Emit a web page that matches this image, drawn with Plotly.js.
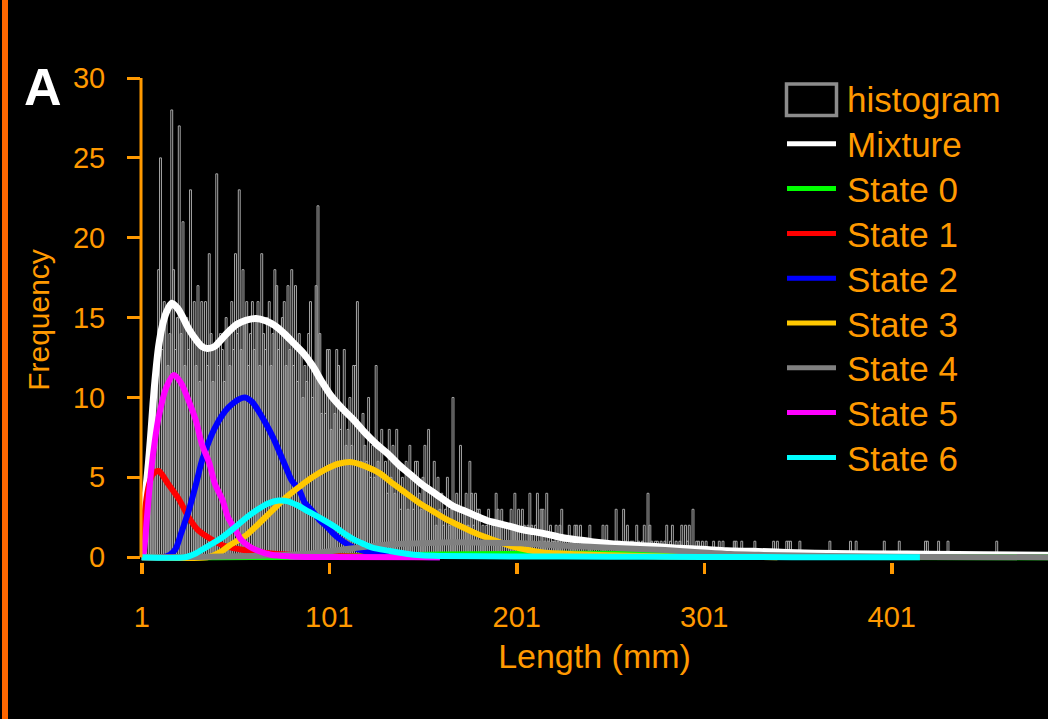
<!DOCTYPE html>
<html><head><meta charset="utf-8">
<script src="https://cdn.plot.ly/plotly-3.0.1.min.js"></script>
<style>html,body{margin:0;padding:0;background:#000;overflow:hidden}#chart{width:1048px;height:719px}</style>
</head><body><div id="chart"></div>
<script>
// ---- histogram: counts per 1-mm bin, lengths 1..230 ----
const histCounts = [
 1, 2, 4, 5, 7, 8,10,11,12,18,
25,13,16,15,12,14,28,18,13,15,
27,14,21,12,15,13,23,14,16,12,
17,11,16,13,16,12,19,14,11,13,
24,12,14,13,11,15,14,12,16,13,
19,14,23,13,18,15,16,12,14,16,
13,15,16,12,19,14,13,15,16,12,
14,18,17,13,14,15,16,12,17,13,
18,12,17,11,14,13,10,12,11,14,
16,10,12,17,22,14, 9,11, 9,13,
13, 8,10, 9,13,12, 8, 9,13, 7,
 8,10, 7,12,12,16, 8, 6, 9, 7,
 6,10, 5, 7, 5,12, 6, 7, 8, 5,
 6, 4, 8, 5, 7, 4, 8, 6, 3, 5,
 4, 6, 3, 7, 5, 3, 6, 6, 4, 3,
 5, 7, 3, 8, 4, 3, 6, 2, 5, 3,
 4, 2, 3, 5, 2, 3,10, 2, 4, 3,
 7, 2, 3, 4, 2, 6, 4, 2, 4, 3,
 3, 1, 2, 1, 2, 3, 1, 2, 2, 4,
 3, 2, 3, 1, 2, 2, 1, 3, 2, 4,
 2, 3, 1, 3, 2, 1, 2, 4, 2, 1,
 2, 4, 1, 3, 3, 1, 4, 1, 2, 1,
 1, 2, 1, 2, 3, 1, 1, 0, 2, 1
];
// sparse tail (non-zero bins only)
const tailLengths = [231,232,233,234,235,236,237,239,240,241,243,244,246,247,248,249,251,252,254,255,256,258,259,260,262,263,265,266,268,269,271,272,273,275,276,278,280,281,283,284,286,288,289,291,292,293,295,297,298,300,302,306,309,311,317,318,321,328,338,340,345,346,347,352,368,379,382,397,405,419,420,426,431,457];
const tailCounts  = [1,2,2,1,2,1,1,1,2,1,1,1,1,2,1,2,1,1,3,1,1,3,1,2,1,1,2,1,1,2,4,2,1,1,1,1,1,2,1,2,1,1,2,2,1,2,3,1,1,1,1,1,1,1,1,1,1,1,1,1,1,1,1,1,1,1,1,1,1,1,1,1,1,1];

// ---- fitted curves ----
const mixL = [1,2,3,4,5,6,7,8,10,12,14,17,20,23,26,30,33,36,40,44,48,52,57,62,67,72,77,82,87,92,97,102,108,114,120,126,132,138,144,150,156,162,167,172,178,185,190,197,203,210,217,224,233,242,251,260,270,280,288,300,313,327,345,360,400,420,450,485];
const mixF = [0,2.5,4,5.2,6.5,8,9.6,11,13.2,14.5,15.3,15.9,15.6,15,14.3,13.6,13.2,13.06,13.2,13.7,14.2,14.6,14.85,14.95,14.8,14.5,14,13.4,12.8,12,11,10.1,9.3,8.6,7.8,7.1,6.5,5.8,5.2,4.6,4.1,3.6,3.2,2.95,2.65,2.3,2.15,1.95,1.75,1.6,1.45,1.25,1.1,0.95,0.85,0.78,0.7,0.63,0.56,0.5,0.4,0.37,0.3,0.25,0.2,0.19,0.15,0.12];
const s0L = [1,40,80,120,160,200,240,270,285,300,330,380,485];
const s0F = [0,0,0.02,0.08,0.17,0.2,0.22,0.2,0.15,0.1,0.04,0.01,0];
const s1L = [1,2,3,5,7,10,15,21,26,31,37,44,53,65,80,100,130,160];
const s1F = [0,1.8,3.2,4.6,5.2,5.4,4.6,3.6,2.5,1.7,1.2,0.75,0.5,0.3,0.15,0.08,0.03,0];
const s2L = [1,12,16,19,22,26,30,33,37,40,44,47,53,56,60,63,67,71,74,78,81,85,88,92,96,99,103,107,114,123,132,145,160];
const s2F = [0,0,0.15,0.5,1.5,2.9,4.6,6.0,7.3,8.1,8.9,9.35,9.9,10.0,9.7,9.2,8.4,7.5,6.7,5.6,4.8,4.2,3.4,2.9,2.3,2.0,1.5,1.1,0.6,0.3,0.2,0.05,0];
const s3L = [1,36,40,44,48,53,57,63,70,78,85,92,99,106,113,120,128,135,142,149,156,163,170,180,189,198,207,215,233,256,280,300,340];
const s3F = [0,0,0.15,0.4,0.75,1.1,1.4,2.05,2.85,3.75,4.4,5.0,5.5,5.85,5.95,5.7,5.25,4.6,4.0,3.4,2.9,2.4,2.0,1.45,1.06,0.7,0.45,0.3,0.19,0.1,0.05,0.03,0];
const s4L = [1,30,60,80,96,114,132,150,167,185,203,220,240,260,280,300,315,330,350,380,420,485];
const s4F = [0,0.02,0.08,0.15,0.3,0.56,0.8,0.88,0.94,0.9,0.88,0.75,0.65,0.55,0.45,0.3,0.2,0.15,0.1,0.06,0.02,0];
const s5L = [1,2,4,6,8,10,14,18,22,26,30,33,37,40,44,47,51,54,58,62,70,80,100,160];
const s5F = [0,0.3,2.8,5.4,7.3,8.75,10.6,11.4,10.9,9.8,8.5,7.1,5.9,4.6,3.6,2.5,1.7,1.1,0.7,0.45,0.15,0.05,0.01,0];
const s6L = [1,24,30,35,40,44,51,57,63,68,74,79,84,90,97,104,110,115,120,124,133,142,150,160,200,250,300,348,416];
const s6F = [0,0,0.25,0.6,0.95,1.25,1.9,2.5,3.0,3.35,3.55,3.5,3.25,2.85,2.4,1.9,1.4,1.05,0.8,0.6,0.4,0.22,0.12,0.08,0.05,0.03,0.02,0,0];

const seriesNames = ['Mixture','State 0','State 1','State 2','State 3','State 4','State 5','State 6'];
const xTickVals = [1,101,201,301,401];
const xTickText = ['1','101','201','301','401'];
const yTickVals = [0,5,10,15,20,25,30];
const yTickText = ['0','5','10','15','20','25','30'];

// ---- styling ----
const ORANGE = '#FF9900';
const FONT = "'Liberation Sans Narrow','Arial Narrow','Liberation Sans',Arial,sans-serif";
const lineColors = ['#FFFFFF','#00FF00','#FF0000','#0000FF','#FFC800','#808080','#FF00FF','#00FFFF'];
const lineWidths = [7,6,6,6,6,6,6,6];
const curveX = [mixL,s0L,s1L,s2L,s3L,s4L,s5L,s6L];
const curveY = [mixF,s0F,s1F,s2F,s3F,s4F,s5F,s6F];

const PL=141, PR=1048, PT=78, PB=562;
const px2x = p => (p-PL)/(PR-PL);
const py2y = p => (PB-p)/(PB-PT);

const histX = histCounts.map((_,i)=>i+1).concat(tailLengths);
const histY = histCounts.concat(tailCounts);

const traces = [{
  type:'bar', name:'histogram', x:histX, y:histY, width:1,
  marker:{color:'rgba(0,0,0,0)', line:{color:'#A8A8A8', width:1}},
  showlegend:false, hoverinfo:'skip'
}];
seriesNames.forEach((n,i)=>{
  traces.push({type:'scatter', mode:'lines', name:n, x:curveX[i], y:curveY[i],
    line:{color:lineColors[i], width:lineWidths[i], shape:'spline', smoothing:0.8},
    showlegend:false, hoverinfo:'skip'});
});

// custom legend (boxed histogram key + long line keys, as in the original)
const legendNames = ['histogram'].concat(seriesNames);
const shapes = [
  {type:'rect', xref:'paper', yref:'paper', x0:px2x(2), x1:px2x(8), y0:py2y(719), y1:py2y(0),
   fillcolor:'#FF6600', line:{width:0}, layer:'above'},
  {type:'line', xref:'paper', yref:'y', x0:0, x1:0, y0:0, y1:30, line:{color:ORANGE, width:3}}
];
const annotations = [
  {xref:'paper', yref:'paper', x:px2x(43), y:py2y(87), text:'<b>A</b>', showarrow:false,
   xanchor:'center', yanchor:'middle', font:{family:"'Liberation Sans',Arial,sans-serif", size:52, color:'#FFFFFF'}}
];
legendNames.forEach((n,i)=>{
  const yc = 99 + 44.8*i;
  if (i===0) {
    shapes.push({type:'rect', xref:'paper', yref:'paper', x0:px2x(786.5), x1:px2x(836.5),
      y0:py2y(115.5), y1:py2y(84), line:{color:'#8C8C8C', width:3.5}, fillcolor:'rgba(0,0,0,0)'});
  } else {
    shapes.push({type:'line', xref:'paper', yref:'paper', x0:px2x(787), x1:px2x(836),
      y0:py2y(yc), y1:py2y(yc), line:{color:lineColors[i-1], width:5}});
  }
  annotations.push({xref:'paper', yref:'paper', x:px2x(845), y:py2y(yc+1), text:n, showarrow:false,
    xanchor:'left', yanchor:'middle', font:{family:FONT, size:35, color:ORANGE}});
});

const layout = {
  width:1048, height:719,
  paper_bgcolor:'#000000', plot_bgcolor:'#000000',
  margin:{l:PL, r:1048-PR, t:PT, b:719-PB, pad:0},
  showlegend:false, bargap:0, hovermode:false,
  font:{family:FONT, color:ORANGE},
  xaxis:{range:[0.6,484.33], tickmode:'array', tickvals:xTickVals, ticktext:xTickText,
    ticks:'outside', ticklen:11, tickwidth:3.5, tickcolor:ORANGE,
    tickfont:{family:FONT, size:29, color:ORANGE}, ticklabelstandoff:18,
    showgrid:false, zeroline:false, showline:false, automargin:false,
    title:{text:'Length (mm)', font:{family:FONT, size:34, color:ORANGE}, standoff:12}},
  yaxis:{range:[-0.3,30], tickmode:'array', tickvals:yTickVals, ticktext:yTickText,
    ticks:'outside', ticklen:13, tickwidth:3, tickcolor:ORANGE,
    tickfont:{family:FONT, size:29, color:ORANGE}, ticklabelstandoff:16,
    showgrid:false, zeroline:false, showline:false, automargin:false,
    title:{text:'Frequency', font:{family:FONT, size:30, color:ORANGE}, standoff:14}},
  shapes:shapes, annotations:annotations
};
Plotly.newPlot('chart', traces, layout, {displayModeBar:false, staticPlot:true});
</script></body></html>
